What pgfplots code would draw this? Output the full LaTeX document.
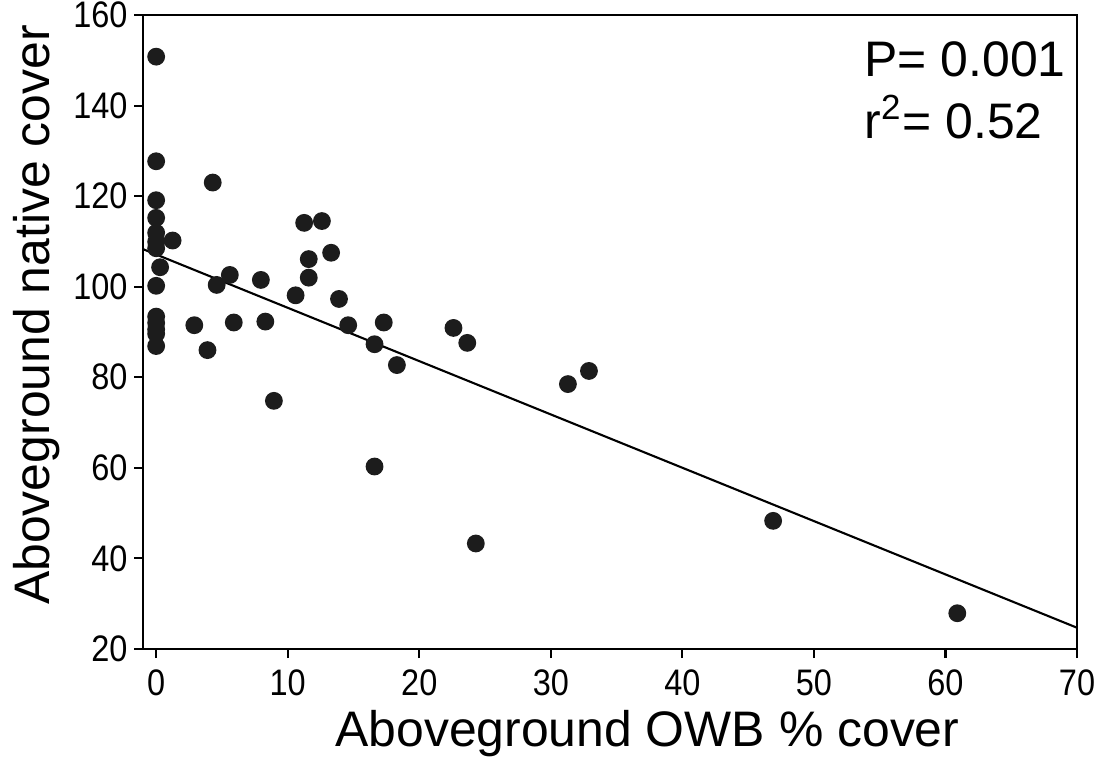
\documentclass[border=0pt]{standalone}
\usepackage{pgfplots}
\pgfplotsset{compat=1.18}
\usepackage{fontspec}
\setmainfont{Liberation Sans}
\definecolor{dot}{HTML}{1C1C1C}

\begin{document}
\begin{tikzpicture}
\begin{axis}[
    scale only axis,
    width=93.4mm, height=63.4mm,
    xmin=-1, xmax=70,
    ymin=20, ymax=160,
    xtick={0,10,...,70},
    ytick={20,40,...,160},
    tick align=outside,
    xtick pos=left, ytick pos=left,
    major tick length=0.9mm,
    minor tick num=0,
    axis line style={line width=0.6pt},
    tick style={line width=0.6pt, black},
    /pgf/number format/assume math mode=true,
    ticklabel style={font=\fontsize{10.5}{12}\selectfont, xscale=0.88},
    xticklabel style={yshift=0.1mm},
    yticklabel style={xshift=0.5mm},
    xlabel={Aboveground OWB \% cover},
    ylabel={Aboveground native cover},
    label style={font=\fontsize{14.2}{16}\selectfont},
    xlabel style={at={(axis description cs:0.54,-0.134)}, anchor=center},
    ylabel style={at={(axis description cs:-0.1135,0.527)}, anchor=center, rotate=0},
    clip=false
]
% observations
\addplot[only marks, mark=*, mark size=0.82mm, mark options={fill=dot, draw=dot}] coordinates {
    (0,150.8) (0,127.7) (0,119.1) (0,115.2) (0,111.9) (0,109.9) (0,108.5)
    (0,100.2) (0,93.4) (0,92.0) (0,90.6) (0,89.6) (0,86.9)
    (0.3,104.3) (1.25,110.2) (2.9,91.5) (3.9,86.0) (4.3,123.0)
    (4.6,100.4) (5.6,102.6) (5.9,92.1) (7.96,101.5) (8.3,92.3) (8.95,74.8)
    (10.6,98.1) (11.25,114.1) (11.6,106.1) (11.6,102.0) (12.6,114.5)
    (13.3,107.5) (13.9,97.3) (14.6,91.5) (16.6,87.3) (16.6,60.3)
    (17.3,92.1) (18.3,82.7) (22.6,90.9) (23.65,87.6) (24.3,43.3)
    (31.3,78.5) (32.9,81.4) (46.9,48.3) (60.9,27.9)
};
% fitted line
\addplot[black, line width=0.6pt] coordinates {(-1,108.3) (70,24.7)};
\node[anchor=base west, inner sep=0pt, font=\fontsize{14.2}{16}\selectfont] at (axis cs:53.8,146.4) {P= 0.001};
\node[anchor=base west, inner sep=0pt, font=\fontsize{14.2}{16}\selectfont] at (axis cs:53.8,132.8) {r\textsuperscript{2}= 0.52};
\end{axis}
\pgfresetboundingbox
\path (current axis.south west) ++(-14.3mm,-12.8mm) coordinate (bl);
\path (current axis.north east) ++(3.2mm,1.5mm) coordinate (tr);
\path (bl) rectangle (tr);
\end{tikzpicture}
\end{document}
